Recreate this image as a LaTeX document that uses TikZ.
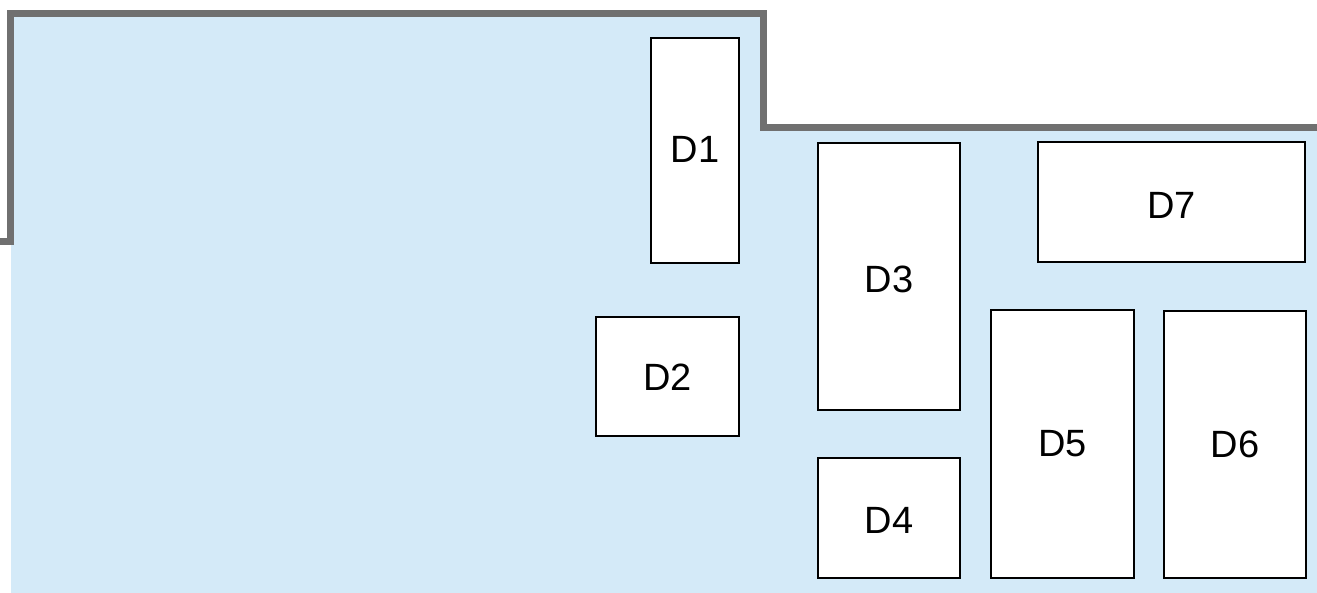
\documentclass[tikz,border=0pt]{standalone}
\usepackage{fontspec}
\setmainfont{Liberation Sans}
\definecolor{floorblue}{HTML}{D4EAF8}
\definecolor{wallgray}{HTML}{707070}
\begin{document}
\begin{tikzpicture}[x=1pt,y=-1pt,
  desk/.style={draw=black,line width=2.6pt,fill=white},
  lbl/.style={font=\fontsize{38}{42}\selectfont,inner sep=0pt},
  wall/.style={draw=wallgray,line width=7pt,line join=miter,line cap=butt}]
\useasboundingbox (0,0) rectangle (1317,593);
\fill[floorblue] (11,593) -- (11,13.5) -- (763,13.5) -- (763,128) -- (1317,128) -- (1317,593) -- cycle;
\draw[wall] (0,241.5) -- (10,241.5) -- (10,13.5) -- (763,13.5) -- (763,128) -- (1317,128);
\newcommand{\deskbox}[7]{%
  \draw[desk] (#2,#3) rectangle (#4,#5);
  \node[lbl] (#1) at ({(#2+#4)/2},{(#3+#5)/2+#7}) {#6};}
\deskbox{d1}{651}{38}{739}{263}{D1}{-1}
\deskbox{d2}{596}{317}{739}{436}{D2}{1}
\deskbox{d3}{818}{143}{960}{410}{D3}{3}
\deskbox{d4}{818}{458}{960}{578}{D4}{2}
\deskbox{d5}{991}{310}{1134}{578}{D5}{0}
\deskbox{d6}{1164}{311}{1306}{578}{D6}{0}
\deskbox{d7}{1038}{142}{1305}{262}{D7}{3}
\end{tikzpicture}
\end{document}
